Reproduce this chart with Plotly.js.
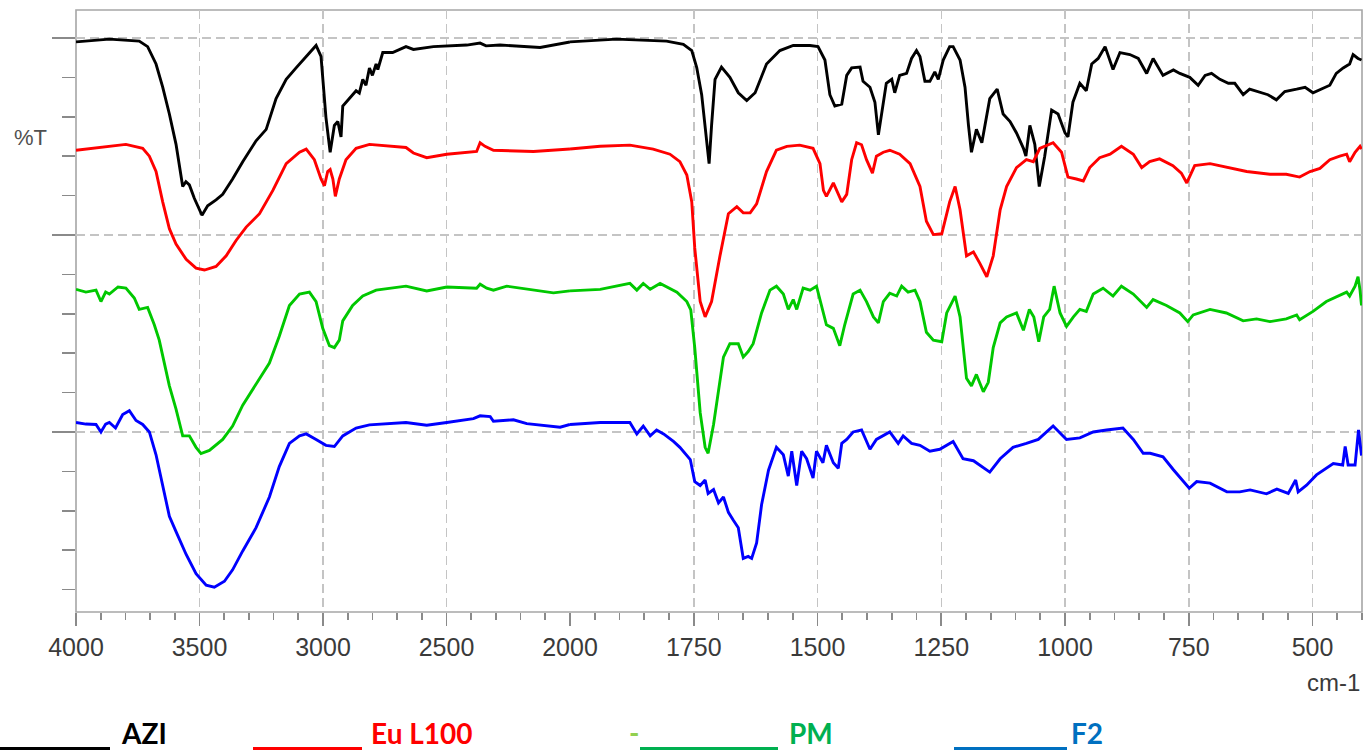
<!DOCTYPE html>
<html>
<head>
<meta charset="utf-8">
<script src="https://cdn.plot.ly/plotly-3.0.1.min.js"></script>
<style>html,body{margin:0;padding:0;background:#fff;}#chart{width:1364px;height:750px;}</style>
</head>
<body>
<div id="chart"></div>
<script>
// ---- data (wavenumber cm-1, stacked %T) ----
const azi_wn = [4000,3865,3744,3710,3676,3649,3622,3595,3568,3555,3541,3521,3490,3467,3433,3406,3366,3325,3271,3230,3190,3149,3109,3055,3028,3008,2988,2971,2954,2940,2927,2920,2893,2866,2853,2839,2826,2812,2800,2785,2778,2758,2718,2664,2634,2553,2418,2364,2340,2283,2121,2000,1906,1805,1771,1754,1744,1734,1724,1719,1714,1707,1694,1677,1660,1643,1626,1603,1576,1549,1515,1499,1485,1475,1465,1451,1441,1431,1414,1408,1394,1384,1377,1371,1361,1350,1344,1334,1320,1310,1300,1293,1283,1273,1263,1256,1246,1233,1226,1212,1202,1195,1189,1179,1168,1152,1137,1125,1111,1098,1084,1079,1071,1061,1052,1041,1027,1014,1000,994,984,970,957,946,933,919,903,889,869,852,835,822,802,781,768,748,731,717,704,687,670,657,640,627,606,590,573,556,532,515,499,482,465,452,438,425,418,408,401];
const azi_t = [99.0,99.7,99.2,97.8,93.4,87.5,80.7,73.0,62.3,63.5,62.7,59.3,55.0,57.4,58.9,60.3,64.2,68.6,73.9,76.8,84.6,89.5,92.4,96.3,98.1,95.3,79.8,71.0,77.8,78.8,74.9,82.7,84.6,86.6,86.0,89.5,88.0,92.4,90.5,93.4,92.0,96.3,96.3,97.8,97.1,97.8,98.2,98.7,98.0,98.2,97.6,99.0,99.7,99.2,98.4,96.8,92.5,85.6,74.9,68.1,77.8,89.5,92.6,90.0,86.1,84.1,86.1,93.4,96.8,98.1,98.1,97.8,94.4,85.6,82.7,83.2,90.5,92.4,92.6,89.0,87.5,83.7,75.4,80.7,88.5,89.5,86.1,90.5,91.0,94.8,96.8,95.3,89.0,89.0,91.4,89.5,94.4,97.8,97.8,94.4,87.5,77.8,71.0,76.8,73.4,84.6,87.0,80.7,78.8,75.9,72.0,70.0,77.8,73.0,62.3,70.0,81.7,80.7,75.9,74.9,83.7,88.5,86.6,93.4,94.8,97.8,92.0,96.3,95.8,94.8,91.0,94.8,90.5,91.9,91.0,90.0,88.0,90.5,91.0,89.5,88.5,88.5,85.6,87.0,86.1,85.6,84.3,86.4,87.0,87.5,86.1,87.0,88.0,91.0,92.4,93.4,95.8,94.8,94.4];

const eu_wn = [4000,3798,3730,3703,3676,3649,3622,3595,3554,3514,3480,3433,3392,3352,3311,3257,3203,3149,3095,3068,3035,3008,2994,2981,2971,2960,2950,2934,2907,2866,2812,2664,2634,2580,2499,2378,2364,2344,2310,2148,2000,1939,1879,1832,1798,1778,1764,1754,1748,1737,1727,1714,1697,1680,1663,1650,1636,1623,1603,1583,1562,1536,1509,1495,1488,1482,1468,1461,1451,1441,1431,1421,1411,1401,1389,1381,1367,1354,1334,1313,1293,1280,1266,1249,1233,1222,1212,1199,1185,1172,1158,1145,1131,1118,1098,1078,1064,1051,1024,1007,994,977,963,950,930,909,886,862,845,829,809,782,765,754,738,707,667,633,586,553,526,505,485,465,445,431,425,414,404,401];
const eu_t = [71.5,73.0,72.0,70.0,66.1,58.4,51.6,47.7,43.8,41.6,41.1,42.0,44.7,48.6,52.0,55.4,61.3,68.1,71.0,71.8,69.1,64.2,62.5,66.1,66.6,64.2,59.8,64.2,69.1,72.0,73.0,72.2,70.8,69.6,70.5,71.2,73.4,72.5,71.5,71.2,71.8,72.5,72.8,71.8,70.5,68.6,65.2,58.4,46.7,33.1,29.2,33.1,44.7,55.4,57.2,55.6,55.6,57.9,66.1,71.5,72.5,72.8,72.0,68.1,61.3,59.8,63.2,61.3,58.4,60.3,69.1,73.4,72.9,69.1,65.7,70.0,71.0,71.5,70.5,68.1,62.3,53.5,50.1,50.3,58.4,62.3,56.4,44.7,45.7,42.8,39.4,44.7,56.4,62.3,67.1,69.1,68.6,72.0,73.4,71.0,64.7,64.2,63.7,67.1,69.6,70.5,72.5,70.5,67.1,68.6,69.3,67.6,65.7,63.2,67.6,68.1,67.1,66.1,65.4,65.4,64.7,66.1,66.9,69.1,70.0,70.5,68.6,71.0,72.5,71.8];

const pm_wn = [4000,3960,3919,3899,3880,3865,3830,3798,3764,3744,3710,3683,3663,3642,3622,3595,3568,3541,3514,3494,3460,3406,3366,3325,3271,3217,3177,3136,3095,3055,3028,3001,2974,2954,2934,2920,2880,2839,2785,2664,2580,2499,2378,2364,2337,2310,2256,2067,2000,1939,1879,1865,1852,1838,1818,1784,1764,1756,1748,1737,1727,1721,1710,1697,1690,1677,1660,1650,1640,1630,1613,1596,1583,1569,1559,1549,1542,1529,1515,1502,1492,1482,1468,1455,1445,1428,1414,1401,1387,1377,1367,1354,1340,1330,1317,1303,1293,1280,1266,1249,1239,1222,1212,1199,1189,1179,1165,1155,1145,1131,1118,1098,1084,1072,1063,1053,1043,1031,1022,1010,997,983,970,957,943,923,903,886,862,835,822,795,768,752,741,707,674,640,613,586,553,532,526,499,472,450,431,425,414,408,404,401];
const pm_t = [36.2,35.5,36.0,33.1,35.5,35.0,36.8,36.5,34.0,31.1,31.6,27.2,23.3,17.5,11.7,5.8,-1.0,-1.0,-3.9,-5.5,-4.7,-1.9,1.5,6.8,12.2,17.5,24.3,32.1,35.0,35.5,33.1,26.3,21.9,21.4,23.3,28.2,32.1,34.5,36.0,37.0,35.8,36.8,36.5,37.5,36.5,36.0,37.0,35.3,35.8,36.2,37.7,36.0,37.7,36.2,37.7,35.5,33.1,31.0,21.4,4.9,-3.9,-5.4,1.9,13.6,19.0,22.4,22.4,19.0,20.4,22.4,30.2,36.0,37.0,35.0,31.1,33.6,31.1,36.5,36.0,37.0,32.1,27.2,26.3,21.9,27.2,35.0,36.0,33.1,29.2,27.7,33.1,35.2,34.5,37.0,35.5,36.0,33.1,25.3,23.3,22.9,30.2,34.5,29.2,13.6,11.7,14.6,10.2,12.6,21.4,27.7,29.2,30.2,25.8,31.1,29.2,22.9,29.2,31.1,37.0,30.2,26.8,29.2,31.1,30.6,35.0,36.5,34.5,37.0,35.0,31.6,33.6,32.1,30.2,28.0,29.7,31.1,30.2,28.2,28.7,28.0,28.7,29.7,28.5,30.6,33.1,34.3,35.5,34.5,37.0,39.4,36.0,32.1];

const f2_wn = [4000,3960,3919,3899,3880,3865,3840,3811,3784,3770,3757,3730,3703,3676,3649,3622,3595,3554,3514,3473,3440,3399,3366,3325,3271,3217,3177,3136,3095,3068,3028,2988,2954,2920,2866,2812,2664,2580,2499,2391,2364,2323,2310,2229,2175,2040,2000,1939,1906,1879,1865,1852,1838,1825,1811,1791,1778,1764,1757,1748,1737,1727,1721,1710,1700,1690,1680,1670,1660,1650,1640,1633,1623,1613,1599,1583,1569,1559,1552,1542,1532,1522,1509,1502,1489,1482,1468,1458,1451,1441,1428,1411,1394,1381,1367,1354,1337,1327,1310,1293,1273,1253,1226,1206,1185,1168,1152,1131,1105,1078,1054,1024,997,970,943,916,883,862,842,828,802,781,761,749,734,707,673,647,626,593,572,549,534,529,512,492,458,439,434,428,414,407,401];
const f2_t = [2.4,2.0,1.9,0.0,2.0,2.4,1.0,4.4,5.4,4.0,2.9,1.9,0.0,-5.8,-13.6,-21.4,-25.3,-31.1,-36.0,-38.9,-39.4,-37.9,-35.0,-30.2,-24.3,-16.5,-8.8,-2.9,-1.0,-0.5,-1.9,-3.4,-3.7,-1.0,1.0,1.8,2.4,1.7,2.4,3.4,4.1,3.9,2.7,3.1,2.1,1.2,1.9,2.4,2.4,2.4,-0.5,1.5,-1.0,0.5,-0.5,-2.4,-3.9,-5.8,-7.0,-12.6,-13.6,-12.2,-15.6,-14.6,-18.0,-16.5,-20.4,-22.4,-24.3,-32.1,-31.6,-32.1,-28.2,-18.5,-9.7,-3.9,-5.8,-11.2,-4.9,-13.6,-4.9,-6.8,-11.7,-4.9,-7.8,-3.4,-7.8,-9.2,-2.9,-1.9,0.0,0.5,-4.4,-1.9,-1.0,0.0,-2.9,-1.0,-2.9,-3.4,-4.9,-4.4,-2.4,-6.8,-7.3,-8.8,-10.2,-6.8,-3.9,-2.9,-1.9,1.5,-1.9,-1.5,0.0,0.5,1.0,-1.9,-5.4,-5.4,-6.3,-9.6,-12.6,-14.3,-12.6,-13.0,-15.2,-15.2,-14.7,-15.7,-14.5,-15.6,-12.2,-15.2,-13.5,-10.9,-8.0,-8.4,-3.7,-8.4,-8.4,0.5,-6.0];

const seriesNames = ["AZI", "Eu L100", "PM", "F2"];
const seriesColors = ["#000000", "#ff0000", "#00c800", "#0000ff"];

const xTicksHigh = [4000, 3500, 3000, 2500];
const xTicksLow = [2000, 1750, 1500, 1250, 1000, 750, 500];
const yMajorTicks = [0, 50, 100];
const yMinorTicks = [-40, -30, -20, -10, 10, 20, 30, 40, 60, 70, 80, 90];
const BREAK = 2000;

// ---- build traces: left panel (4000-2000) and right panel (2000-400) ----
const allWn = [azi_wn, eu_wn, pm_wn, f2_wn];
const allT = [azi_t, eu_t, pm_t, f2_t];
const traces = [];
for (let s = 0; s < 4; s++) {
  const wn = allWn[s], t = allT[s];
  const hx = [], hy = [], lx = [], ly = [];
  for (let i = 0; i < wn.length; i++) {
    if (wn[i] >= BREAK) { hx.push(wn[i]); hy.push(t[i]); }
    if (wn[i] <= BREAK) { lx.push(wn[i]); ly.push(t[i]); }
  }
  const line = {color: seriesColors[s], width: 2.9};
  traces.push({x: hx, y: hy, xaxis: "x", yaxis: "y", mode: "lines", line: line, name: seriesNames[s], showlegend: false, hoverinfo: "skip"});
  traces.push({x: lx, y: ly, xaxis: "x2", yaxis: "y", mode: "lines", line: line, name: seriesNames[s], showlegend: false, hoverinfo: "skip"});
}

const gridCol = "#c4c4c4";
const tickCol = "#8a8a8a";
const tickFont = {family: "Liberation Sans, Arial, sans-serif", size: 25, color: "#3a3a3a"};
const split = 494 / 1286;

const xCommon = {
  showline: false, zeroline: false, showgrid: true, gridcolor: gridCol, gridwidth: 1.5, griddash: "9px,5px",
  ticks: "outside", ticklen: 13, tickwidth: 1.6, tickcolor: tickCol, tickfont: tickFont, fixedrange: true,
  anchor: "y"
};

const legY = (612 - 751) / 602;
const legFont = (c) => ({family: "Lato, sans-serif", size: 28, color: c});

const layout = {
  width: 1364, height: 750, autosize: false,
  margin: {l: 76, r: 2, t: 10, b: 138},
  paper_bgcolor: "#ffffff", plot_bgcolor: "#ffffff",
  showlegend: false, hovermode: false,
  xaxis: Object.assign({}, xCommon, {
    domain: [0, split], range: [4000, 2000], tickmode: "array", tickvals: xTicksHigh, ticktext: xTicksHigh.map(String),
    minor: {tickmode: "linear", tick0: 0, dtick: 100, ticks: "outside", ticklen: 7, tickwidth: 1.6, tickcolor: tickCol, showgrid: false}
  }),
  xaxis2: Object.assign({}, xCommon, {
    domain: [split, 1], range: [2000, 400], tickmode: "array", tickvals: xTicksLow, ticktext: xTicksLow.map(String),
    minor: {tickmode: "linear", tick0: 0, dtick: 50, ticks: "outside", ticklen: 7, tickwidth: 1.6, tickcolor: tickCol, showgrid: false}
  }),
  yaxis: {
    range: [-45.7, 107.1], showline: false, zeroline: false, showgrid: true, gridcolor: gridCol, gridwidth: 1.5, griddash: "9px,5px",
    tickmode: "array", tickvals: yMajorTicks, showticklabels: false,
    ticks: "outside", ticklen: 23, tickwidth: 1.8, tickcolor: tickCol, fixedrange: true,
    minor: {tickmode: "array", tickvals: yMinorTicks, ticks: "outside", ticklen: 13, tickwidth: 1.6, tickcolor: tickCol, showgrid: false}
  },
  shapes: [
    {type: "rect", xref: "paper", yref: "paper", x0: 0, x1: 1, y0: 0, y1: 1, line: {color: "#a6a6a6", width: 1.6}, fillcolor: "rgba(0,0,0,0)", layer: "below"},
    {type: "line", xref: "paper", yref: "paper", x0: (0 - 76) / 1286, x1: (110 - 76) / 1286, y0: (612 - 748.5) / 602, y1: (612 - 748.5) / 602, line: {color: "#000000", width: 3}},
    {type: "line", xref: "paper", yref: "paper", x0: (253 - 76) / 1286, x1: (362 - 76) / 1286, y0: (612 - 748.5) / 602, y1: (612 - 748.5) / 602, line: {color: "#ff0000", width: 3}},
    {type: "line", xref: "paper", yref: "paper", x0: (640 - 76) / 1286, x1: (778 - 76) / 1286, y0: (612 - 748.5) / 602, y1: (612 - 748.5) / 602, line: {color: "#00b050", width: 3}},
    {type: "line", xref: "paper", yref: "paper", x0: (954 - 76) / 1286, x1: (1067 - 76) / 1286, y0: (612 - 748.5) / 602, y1: (612 - 748.5) / 602, line: {color: "#0070c0", width: 3}}
  ],
  annotations: [
    {text: "%T", xref: "paper", yref: "paper", x: (12 - 76) / 1286, y: (612 - 138) / 602, xanchor: "left", yanchor: "middle", showarrow: false,
     font: {family: "Liberation Sans, Arial, sans-serif", size: 22, color: "#505050"}},
    {text: "cm-1", xref: "paper", yref: "paper", x: (1362 - 76) / 1286, y: (612 - 682) / 602, xanchor: "right", yanchor: "middle", showarrow: false,
     font: {family: "Liberation Sans, Arial, sans-serif", size: 24, color: "#3a3a3a"}},
    {text: "<b>AZI</b>", xref: "paper", yref: "paper", x: (120 - 76) / 1286, y: legY, xanchor: "left", yanchor: "bottom", borderpad: 0, showarrow: false, font: legFont("#000000")},
    {text: "<b>Eu L100</b>", xref: "paper", yref: "paper", x: (370 - 76) / 1286, y: legY, xanchor: "left", yanchor: "bottom", borderpad: 0, showarrow: false, font: legFont("#ff0000")},
    {text: "<b>-</b>", xref: "paper", yref: "paper", x: (628 - 76) / 1286, y: (612 - 750) / 602, xanchor: "left", yanchor: "bottom", borderpad: 0, showarrow: false, font: legFont("#92d050")},
    {text: "<b>PM</b>", xref: "paper", yref: "paper", x: (788 - 76) / 1286, y: legY, xanchor: "left", yanchor: "bottom", borderpad: 0, showarrow: false, font: legFont("#00b050")},
    {text: "<b>F2</b>", xref: "paper", yref: "paper", x: (1070 - 76) / 1286, y: legY, xanchor: "left", yanchor: "bottom", borderpad: 0, showarrow: false, font: legFont("#0070c0")}
  ]
};

Plotly.newPlot("chart", traces, layout, {displayModeBar: false, staticPlot: true});
</script>
</body>
</html>
